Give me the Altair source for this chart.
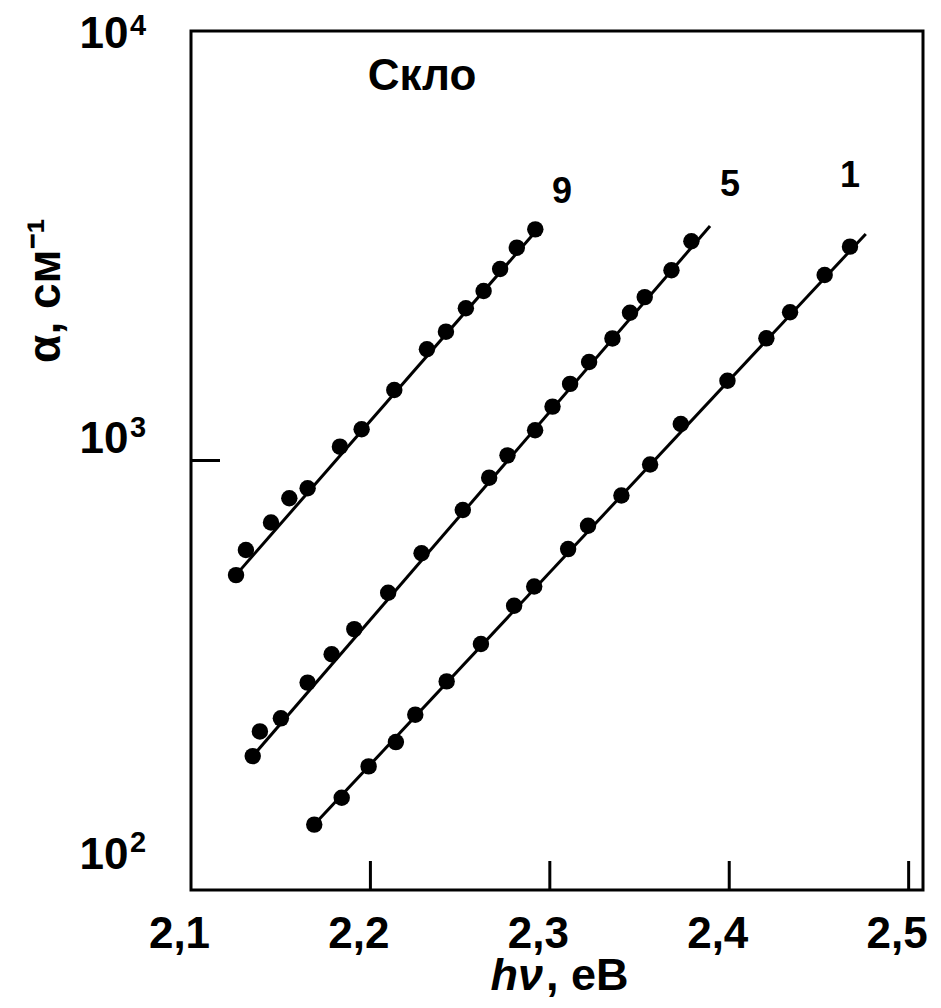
import altair as alt
import pandas as pd

# ---- data ----
s9_x = [2.1251, 2.1306, 2.1446, 2.1548, 2.1650, 2.1830, 2.1951, 2.2133, 2.2315,
        2.2421, 2.2532, 2.2631, 2.2723, 2.2816, 2.2919]
s9_y = [541, 619, 717, 817, 862, 1077, 1182, 1459, 1815, 1995, 2262, 2481, 2792, 3130, 3453]

s5_x = [2.1344, 2.1384, 2.1501, 2.1650, 2.1784, 2.1910, 2.2099, 2.2285, 2.2515, 2.2662,
        2.2764, 2.2918, 2.3015, 2.3113, 2.3219, 2.3349, 2.3447, 2.3529, 2.3678, 2.3789]
s5_y = [205, 234, 251, 304, 354, 405, 492, 608, 767, 912, 1028, 1176, 1335, 1508, 1696,
        1924, 2208, 2401, 2774, 3239]

s1_x = [2.1687, 2.1840, 2.1990, 2.2142, 2.2250, 2.2425, 2.2616, 2.2801, 2.2913, 2.3102,
        2.3213, 2.3399, 2.3559, 2.3730, 2.3990, 2.4207, 2.4339, 2.4532, 2.4673]
s1_y = [142, 164, 194, 221, 256, 306, 374, 459, 509, 622, 705, 829, 979, 1216, 1534,
        1925, 2214, 2704, 3147]

# fitted straight lines (start, end)
fit_series = ["9", "9", "5", "5", "1", "1"]
fit_x = [2.1245, 2.2933, 2.1344, 2.3893, 2.1687, 2.4761]
fit_y = [538, 3459, 205, 3516, 142, 3368]

x_ticks = [2.1, 2.2, 2.3, 2.4, 2.5]
y_ticks = [100, 1000, 10000]
y_exponents = ["2", "3", "4"]
curve_labels = ["9", "5", "1"]
panel_label = "Скло"

# ---- tables ----
rows = []
for name, xs, ys in [("9", s9_x, s9_y), ("5", s5_x, s5_y), ("1", s1_x, s1_y)]:
    for a, b in zip(xs, ys):
        rows.append({"series": name, "x": a, "y": b})
pts = pd.DataFrame(rows)
fits = pd.DataFrame({"series": fit_series, "x": fit_x, "y": fit_y})

W, H = 732, 859
FONT = "Liberation Sans"

xscale = alt.Scale(domain=[2.1, 2.508], nice=False, zero=False)
yscale = alt.Scale(type="log", domain=[100, 10000], nice=False)

xaxis = alt.Axis(
    values=x_ticks, title=None, grid=False, domain=False, ticks=False, tickSize=0,
    labelExpr="replace(format(datum.value, '.1f'), '.', ',')",
    labelFont=FONT, labelFontSize=44, labelFontWeight="bold", labelColor="black",
    labelPadding=22, labelFlush=False, labelOverlap=False, labelOffset=-12,
)
yaxis = alt.Axis(
    values=y_ticks, grid=False, domain=False, ticks=False, tickSize=0,
    labelExpr="'10'",
    labelFont=FONT, labelFontSize=44, labelFontWeight="bold", labelColor="black",
    labelPadding=63, labelFlush=False, labelOverlap=False, labelBaseline="middle",
    labelOffset={"condition": [{"test": "datum.value == 100", "value": -35},
                               {"test": "datum.value == 1000", "value": -21}],
                 "value": 3},
    title="α, см⁻¹", titleFont=FONT, titleFontSize=46, titleFontWeight="bold",
    titleColor="black", titleX=-146, titleY=259, titleAngle=270,
    titleBaseline="middle", titleAlign="center",
)

X = lambda f: alt.X(f, scale=xscale, axis=xaxis)
Y = lambda f: alt.Y(f, scale=yscale, axis=yaxis)

points = alt.Chart(pts).mark_point(
    shape="circle", size=270, filled=True, color="black", opacity=1
).encode(x=X("x:Q"), y=Y("y:Q"))

lines = alt.Chart(fits).mark_line(color="black", strokeWidth=3).encode(
    x=X("x:Q"), y=Y("y:Q"), detail="series:N",
)

xt = pd.DataFrame({"x": x_ticks[1:]})
xtick_rules = alt.Chart(xt).mark_rule(color="black", strokeWidth=3).encode(
    x=X("x:Q"), y=alt.value(H - 29), y2=alt.value(H),
)
yt = pd.DataFrame({"y": [1000]})
ytick_rules = alt.Chart(yt).mark_rule(color="black", strokeWidth=3).encode(
    y=Y("y:Q"), x=alt.value(0), x2=alt.value(29),
)

def label(txt, px, py, size, style="normal", align="center", baseline="alphabetic"):
    return alt.Chart(pd.DataFrame({"t": [txt]})).mark_text(
        font=FONT, fontSize=size, fontWeight="bold", fontStyle=style,
        color="black", align=align, baseline=baseline,
    ).encode(text="t:N", x=alt.value(px), y=alt.value(py))

texts = [
    label(panel_label, 231, 59, 44),
    label(curve_labels[0], 371, 172, 36),
    label(curve_labels[1], 539, 165, 36),
    label(curve_labels[2], 659, 156, 36),
    label("hν", 352, 959, 45, style="italic", align="right"),
    label(", еВ", 355, 959, 45, align="left"),
    # exponents of the y tick labels 10^2, 10^3, 10^4
    label(y_exponents[0], -61, 821, 29, align="left"),
    label(y_exponents[1], -61, 406, 29, align="left"),
    label(y_exponents[2], -61, 4, 29, align="left"),
]

chart = alt.layer(points, lines, xtick_rules, ytick_rules, *texts).properties(
    width=W, height=H,
    background="white",
    autosize=alt.AutoSizeParams(type="none"),
    padding={"left": 183, "top": 23, "right": 10, "bottom": 110},
).configure_view(stroke="black", strokeWidth=3)

chart.save("out.html", embed_options={"renderer": "svg", "actions": False})
